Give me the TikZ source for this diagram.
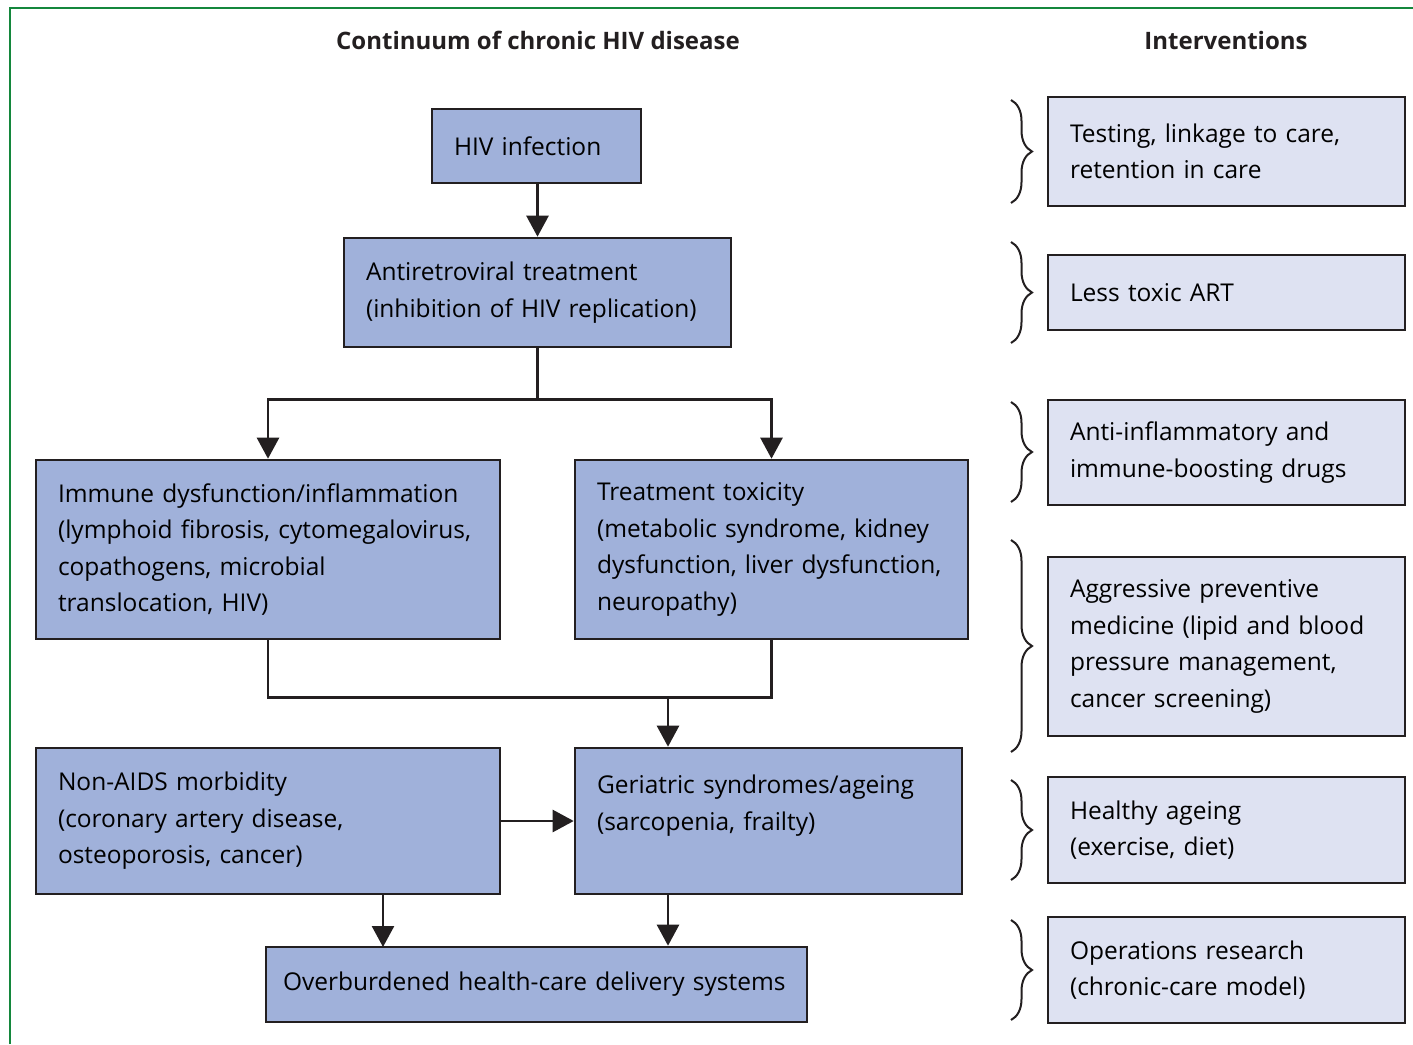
\documentclass[tikz,border=0pt]{standalone}
\usepackage{fontspec}
\setmainfont{Open Sans}
\usetikzlibrary{arrows.meta,decorations.pathreplacing}

\definecolor{boxblue}{RGB}{160,177,218}
\definecolor{paleblue}{RGB}{222,226,242}
\definecolor{edgegray}{RGB}{35,31,32}
\definecolor{framegreen}{RGB}{20,135,60}
\hyphenpenalty=10000

\begin{document}
\begin{tikzpicture}[
  x=1pt,y=-1pt,
  stage/.style={draw=edgegray,fill=boxblue,line width=2.6pt,align=left,
    inner xsep=22pt,inner ysep=0pt,font=\fontsize{24.5}{36.5}\selectfont},
  action/.style={stage,fill=paleblue},
  heading/.style={font=\fontsize{24}{28}\selectfont\bfseries,text=edgegray},
  link/.style={draw=edgegray,line width=2.6pt},
  arr/.style={link,-{Triangle[width=22pt,length=21pt]}},
  curly/.style={draw=edgegray,line width=2pt,
    decorate,decoration={brace,amplitude=21pt}}
]
  \useasboundingbox (0,0) rectangle (1413,1044);
  \draw[framegreen,line width=1.5pt] (10,1044) -- (10,8) -- (1413,8);

  \node[heading] (left head) at (538,40) {Continuum of chronic HIV disease};
  \node[heading] (right head) at (1226,40) {Interventions};

  % disease continuum
  \node[stage,minimum width=209pt,minimum height=74pt,text width=165pt] (hiv) at (536.5,146)
    {HIV infection};
  \node[stage,minimum width=387pt,minimum height=109pt,text width=343pt] (art) at (537.5,292.5)
    {Antiretroviral treatment\\(inhibition of HIV replication)};
  \node[stage,minimum width=464pt,minimum height=179pt,text width=420pt] (immune) at (268,549.5)
    {Immune dysfunction/inflammation\\(lymphoid fibrosis, cytomegalovirus,\\copathogens, microbial\\translocation, HIV)};
  \node[stage,minimum width=393pt,minimum height=179pt,text width=349pt] (toxic) at (771.5,549.5)
    {Treatment toxicity\\(metabolic syndrome, kidney\\dysfunction, liver dysfunction,\\neuropathy)};
  \node[stage,minimum width=464pt,minimum height=146pt,text width=420pt] (nonaids) at (268,821)
    {Non-AIDS morbidity\\(coronary artery disease,\\osteoporosis, cancer)};
  \node[stage,minimum width=387pt,minimum height=146pt,text width=343pt] (ageing) at (768.5,821)
    {Geriatric syndromes/ageing\\(sarcopenia, frailty)\\\mbox{}};
  \node[stage,inner xsep=17pt,minimum width=541pt,minimum height=75pt,text width=507pt] (burden) at (536.5,984.5)
    {Overburdened health-care delivery systems};

  % interventions
  \node[action,minimum width=357pt,minimum height=109pt,text width=313pt] (testing) at (1226.5,151.5)
    {Testing, linkage to care,\\retention in care};
  \node[action,minimum width=357pt,minimum height=75pt,text width=313pt] (lesstoxic) at (1226.5,292.5)
    {Less toxic ART};
  \node[action,minimum width=357pt,minimum height=105pt,text width=313pt] (antiinfl) at (1226.5,452.5)
    {Anti-inflammatory and\\immune-boosting drugs};
  \node[action,minimum width=357pt,minimum height=179pt,text width=313pt] (prevent) at (1226.5,646.5)
    {Aggressive preventive\\medicine (lipid and blood\\pressure management,\\cancer screening)};
  \node[action,minimum width=357pt,minimum height=106pt,text width=313pt] (healthy) at (1226.5,830)
    {Healthy ageing\\(exercise, diet)};
  \node[action,minimum width=357pt,minimum height=106pt,text width=313pt] (opres) at (1226.5,970)
    {Operations research\\(chronic-care model)};

  % connectors
  \draw[arr] (art.north |- hiv.south) -- (art.north);
  \draw[link] (art.south) -- ++(0,51) coordinate (split);
  \draw[arr] (split) -| (immune.north);
  \draw[arr] (split) -| (toxic.north);
  \draw[link] (immune.south) -- ++(0,57) coordinate (merge) -| (toxic.south);
  \coordinate (join) at (668,696);
  \draw[arr] (join) -- (join |- ageing.north);
  \draw[arr] (nonaids.east) -- (ageing.west);
  \draw[arr] (383,894) -- (383,947);
  \draw[arr] (join |- ageing.south) -- (join |- burden.north);

  % braces
  \draw[curly] (1011,100) -- (1011,203);
  \draw[curly] (1011,242) -- (1011,343);
  \draw[curly] (1011,402) -- (1011,502);
  \draw[curly] (1011,540) -- (1011,752);
  \draw[curly] (1011,780) -- (1011,880);
  \draw[curly] (1011,920) -- (1011,1020);
\end{tikzpicture}
\end{document}
